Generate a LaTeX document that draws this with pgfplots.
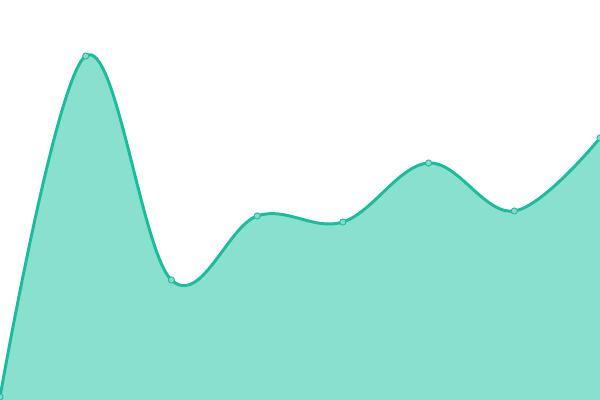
\documentclass[border=0pt]{standalone}
\usepackage{pgfplots}
\pgfplotsset{compat=1.18}
\definecolor{lineteal}{HTML}{1ABC9C}
\definecolor{fillteal}{HTML}{8AE0CF}
\definecolor{markfill}{HTML}{7FDCC9}
\begin{document}
\begin{tikzpicture}
\begin{axis}[
    width=15cm, height=10cm,
    scale only axis,
    hide axis,
    xmin=0, xmax=7,
    ymin=0, ymax=400,
    clip=true,
]
\addplot[draw=none, fill=fillteal, smooth, tension=0.62] coordinates {
    (0, 3) (1, 344) (2, 120) (3, 184) (4, 178) (5, 237) (6, 189) (7, 262)
} \closedcycle;
\addplot[lineteal, line width=2.1pt, smooth, tension=0.62,
    mark=*, mark size=2.2pt,
    mark options={fill=markfill, draw=lineteal, line width=0.6pt}] coordinates {
    (0, 3) (1, 344) (2, 120) (3, 184) (4, 178) (5, 237) (6, 189) (7, 262)
};
\end{axis}
\pgfresetboundingbox
\path (0,0) rectangle (15cm,10cm);
\end{tikzpicture}
\end{document}
